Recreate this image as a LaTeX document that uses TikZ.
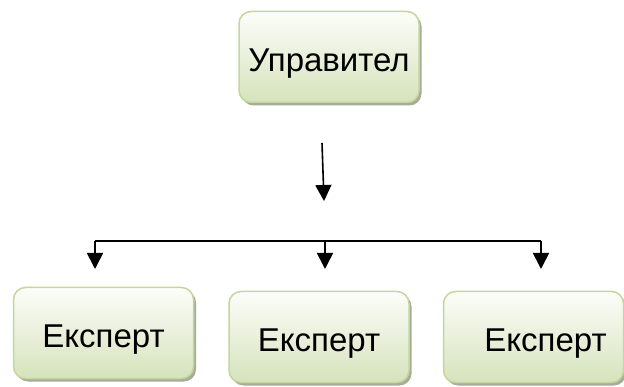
\documentclass[tikz,border=0pt]{standalone}
\usepackage{fontspec}
\setmainfont{Liberation Sans}
\definecolor{boxline}{RGB}{195, 214, 155}
\definecolor{boxtop}{RGB}{252, 253, 250}
\definecolor{boxbottom}{RGB}{214, 227, 188}
\definecolor{boxshade}{RGB}{165, 172, 152}
\usetikzlibrary{arrows.meta, positioning, shadows}

\begin{document}
\begin{tikzpicture}[x=1pt, y=-1pt,
    role/.style={draw=boxline, line width=1.5pt, rounded corners=12pt,
      top color=boxtop, bottom color=boxbottom,
      drop shadow={shadow xshift=2.5pt, shadow yshift=-3pt, fill=boxshade, opacity=1},
      minimum width=180pt, minimum height=91pt, inner sep=0pt,
      text height=30pt, text depth=0pt,
      font=\fontsize{33}{40}\selectfont},
    link/.style={line width=1.6pt, -{Triangle[length=16pt, width=16pt]}}]
  \useasboundingbox (0,0) rectangle (624,387);

  % boss and experts
  \node[role] (boss) at (329,57) {Управител};
  \node[role] (exp1) at (103.5,333) {Експерт};
  \node[role] (exp2) at (319,337) {Експерт};
  \node[role] (exp3) at (533.5,337) {\hspace*{24pt}Експерт};

  % connectors
  \coordinate (down) at (322,143);
  \coordinate (downend) at (324,201);
  \coordinate (branchL) at (95,241);
  \coordinate (branchM) at (325,241);
  \coordinate (branchR) at (541,241);
  \draw[link] (down) -- (downend);
  \draw[line width=1.6pt] (branchL) -- (branchR);
  \draw[link] (branchL) -- ++(0,28);
  \draw[link] (branchM) -- ++(0,28);
  \draw[link] (branchR) -- ++(0,28);
\end{tikzpicture}
\end{document}
